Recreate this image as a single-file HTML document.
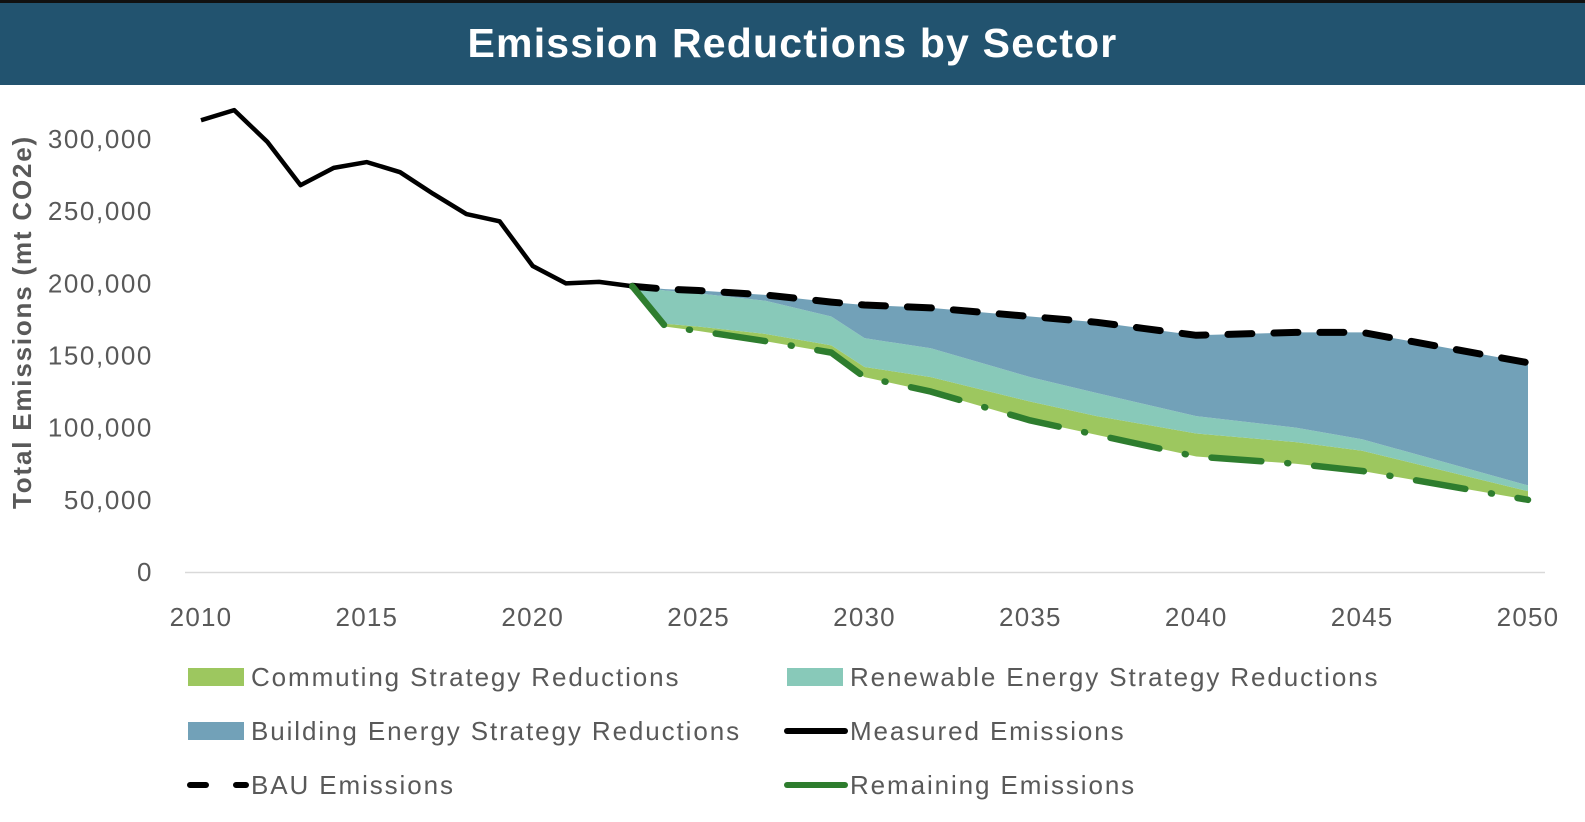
<!DOCTYPE html>
<html><head><meta charset="utf-8"><style>
body{margin:0;background:#fff;width:1585px;height:822px;overflow:hidden;font-family:"Liberation Sans",sans-serif}
#hdr{position:absolute;left:0;top:0;width:1585px;height:85px;background:#22536f;border-top:3px solid #111;box-sizing:border-box;color:#fff;font-weight:bold;font-size:41px;letter-spacing:1.2px;text-align:center;line-height:80px}
</style></head><body>
<div id="hdr">Emission Reductions by Sector</div>
<svg id="c" width="1585" height="822" style="position:absolute;left:0;top:0"></svg>
<script>
const measuredYears=[2010,2011,2012,2013,2014,2015,2016,2017,2018,2019,2020,2021,2022,2023];
const measured=[313000,320000,298000,268000,280000,284000,277000,262000,248000,243000,212000,200000,201000,198000];
const projYears=[2023,2024,2025,2027,2029,2030,2032,2035,2037,2040,2043,2045,2050];
const bau=[198000,196000,195000,192000,187000,185000,183000,177000,173000,164000,166000,166000,145000];
const remaining=[198000,170000,167000,160000,152000,135000,125000,105000,95000,80000,75000,70000,50000];
const commuting=[0,2000,3000,5000,5000,7000,10000,13000,13000,16000,15000,14000,6000];
const renewable=[0,23000,23000,23000,20000,20000,20000,17000,16000,12000,10000,8000,4000];
const building=[0,1000,2000,4000,10000,23000,28000,42000,49000,56000,66000,74000,85000];
const yTicks=[0,50000,100000,150000,200000,250000,300000];
const xTicks=[2010,2015,2020,2025,2030,2035,2040,2045,2050];
const NS="http://www.w3.org/2000/svg",svg=document.getElementById('c');
const X=y=>201+(y-2010)*(1528-201)/40, Y=v=>572-v*(572-139)/300000;
function mk(t,a,txt){const e=document.createElementNS(NS,t);for(const k in a)e.setAttribute(k,a[k]);if(txt!=null)e.textContent=txt;svg.appendChild(e);return e;}
const ax=mk('line',{x1:185,x2:1545,y1:572.5,y2:572.5,stroke:'#d9d9d9','stroke-width':1.5});

yTicks.forEach(v=>{const t=mk('text',{x:153,y:Y(v)+9,'text-anchor':'end','font-size':26,'letter-spacing':1.6,fill:'#595959'},v.toLocaleString('en-US'));
});
xTicks.forEach(v=>{const t=mk('text',{x:X(v),y:626,'text-anchor':'middle','font-size':26,'letter-spacing':1.2,fill:'#595959'},String(v));
});
const yl=mk('text',{transform:'translate(31,322) rotate(-90)','text-anchor':'middle','font-size':26,'letter-spacing':1.8,'font-weight':'bold',fill:'#595959'},'Total Emissions (mt CO2e)');

let base=remaining.slice();
[[commuting,'#9dc75f','area-commuting'],[renewable,'#88c9b9','area-renewable'],[building,'#72a1b8','area-building']].forEach(([s,col,n])=>{
 const top=base.map((b,i)=>b+s[i]);
 let d='M'+projYears.map((y,i)=>X(y)+','+Y(top[i])).join('L');
 for(let i=projYears.length-1;i>=0;i--)d+='L'+X(projYears[i])+','+Y(base[i]);
 const p=mk('path',{d:d+'Z',fill:col});
 
 base=top;});
const line=(xs,vs,a,n)=>{const p=mk('polyline',Object.assign({points:xs.map((y,i)=>X(y)+','+Y(vs[i])).join(' '),fill:'none','stroke-linejoin':'round'},a));
 };
line(measuredYears,measured,{stroke:'#000','stroke-width':4.5},'measured-line');
line(projYears,bau,{stroke:'#000','stroke-width':7,'stroke-dasharray':'24 22','stroke-linecap':'round'},'bau-line');
line(projYears,remaining,{stroke:'#2e7d2e','stroke-width':6.5,'stroke-dasharray':'50 26 1 26','stroke-linecap':'round'},'remaining-line');
const leg=[[188,677,'rect','#9dc75f','Commuting Strategy Reductions'],[787,677,'rect','#88c9b9','Renewable Energy Strategy Reductions'],
[188,731,'rect','#72a1b8','Building Energy Strategy Reductions'],[787,731,'solid','#000','Measured Emissions'],
[188,785,'dash','#000','BAU Emissions'],[787,785,'solid','#2e7d2e','Remaining Emissions']];
leg.forEach(([x,y,k,c,t])=>{
 let s;
 if(k==='rect')s=mk('rect',{x:x,y:y-9,width:56,height:18,fill:c});
 else if(k==='solid')s=mk('line',{x1:x,x2:x+58,y1:y,y2:y,stroke:c,'stroke-width':6,'stroke-linecap':'round'});
 else s=mk('line',{x1:x+2,x2:x+58,y1:y,y2:y,stroke:c,'stroke-width':6,'stroke-dasharray':'16 30','stroke-linecap':'round'});
 
 const tx=mk('text',{x:x+63,y:y+9,'font-size':26,'letter-spacing':1.9,fill:'#595959'},t);
 });
</script>
</body></html>
